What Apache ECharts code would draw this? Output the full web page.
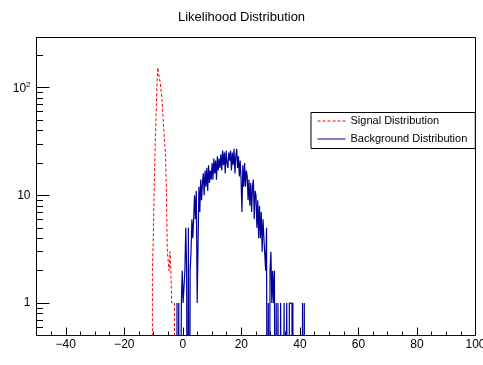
<!DOCTYPE html>
<html><head><meta charset="utf-8">
<script src="https://cdn.jsdelivr.net/npm/echarts@6/dist/echarts.min.js"></script>
<style>html,body{margin:0;padding:0;background:#fff}#c{width:483px;height:365px}</style>
</head><body><div id="c"></div>
<script>
// ---- data ----
const binWidth = 0.3;
const xMin = -50, xMax = 100;
const yMin = 0.5, yMax = 292;
const signalName = 'Signal Distribution';
const backgroundName = 'Background Distribution';
const signalStart = -10.4;
const signalCounts = [
  2, 4, 11, 25, 48, 95, 153, 150, 122, 110,
  92, 75, 55, 40, 30, 24, 10, 3, 3, 2,
  3, 2, 1, 1, 1, 1
];
const backgroundStart = -2.0;
const backgroundCounts = [
  1, 0, 1, 0, 0, 1, 2, 1, 1, 2,
  5, 2, 0, 5, 0, 2, 3, 6, 4, 6,
  10, 6, 11, 1, 1, 12, 7, 14, 9, 13,
  16, 10, 17, 12, 18, 11, 19, 13, 17, 14,
  20, 14, 22, 16, 21, 14, 23, 17, 22, 18,
  24, 17, 26, 19, 25, 16, 26, 20, 18, 25,
  21, 26, 17, 25, 19, 27, 16, 23, 27, 18,
  23, 15, 21, 14, 7, 19, 12, 20, 12, 17,
  15, 9, 14, 8, 13, 7, 12, 14, 6, 11,
  10, 5, 9, 4, 8, 4, 7, 3, 6, 4,
  4, 2, 5, 0, 1, 0, 2, 3, 1, 2,
  1, 2, 0, 1, 0, 1, 1, 0, 1, 1,
  0, 0, 1, 0, 0, 1, 1, 0, 1, 1,
  1, 0, 1, 0, 0, 0, 0, 0, 0, 0,
  0, 0, 0, 1, 0, 1, 0
];
const xTickLabels = [-40, -20, 0, 20, 40, 60, 80, 100];
const xMinorTicks = [-45, -40, -35, -30, -25, -20, -15, -10, -5, 0, 5, 10, 15, 20, 25, 30, 35, 40, 45, 50, 55, 60, 65, 70, 75, 80, 85, 90, 95];
const yMajorTicks = [1, 10, 100];
const yMinorTicks = [0.6, 0.7, 0.8, 0.9, 2, 3, 4, 5, 6, 7, 8, 9, 20, 30, 40, 50, 60, 70, 80, 90, 200];

// ---- build ----
const FONT = 'Liberation Sans, Arial, Helvetica, sans-serif';
const ZERO = 1e-3; // empty bins drawn below the log-axis floor (clipped), like ROOT
function histPoints(start, counts) {
  const pts = [[start, ZERO]];
  for (let i = 0; i < counts.length; i++) {
    pts.push([+(start + i * binWidth).toFixed(4), counts[i] > 0 ? counts[i] : ZERO]);
  }
  pts.push([+(start + counts.length * binWidth).toFixed(4), ZERO]);
  return pts;
}
const chart = echarts.init(document.getElementById('c'), null, {renderer: 'canvas'});
const fmtX = v => (v < 0 ? '\u2212' + Math.abs(v) : String(v));
const fmtY = v => (v >= 100 ? '{b|10}{s|2}' : String(Math.round(v)));
const clear = 'rgba(0,0,0,0)';
chart.setOption({
  animation: false,
  backgroundColor: '#fff',
  title: {
    text: 'Likelihood Distribution', left: 'center', top: 6,
    textStyle: {fontFamily: FONT, fontSize: 13, fontWeight: 'normal', color: '#000'}
  },
  legend: {
    orient: 'vertical', left: 311, top: 112.5,
    itemWidth: 28, itemHeight: 12, itemGap: 7,
    padding: [3, 8, 4, 6],
    borderColor: '#000', borderWidth: 1, backgroundColor: '#fff', borderRadius: 0,
    itemStyle: {color: clear, borderColor: clear, borderWidth: 0, opacity: 0},
    lineStyle: {width: 1},
    textStyle: {fontFamily: FONT, fontSize: 11, color: '#000'},
    data: [signalName, backgroundName]
  },
  grid: {
    left: 36.5, right: 7.5, top: 37.5, bottom: 29.5,
    show: true, borderColor: '#000', borderWidth: 1, backgroundColor: 'transparent',
    containLabel: false, outerBoundsMode: 'none'
  },
  xAxis: [
    {
      type: 'value', min: xMin, max: xMax, position: 'bottom',
      axisLine: {show: true, onZero: false, lineStyle: {color: '#000099', width: 1}},
      axisTick: {show: true, inside: true, length: 4, customValues: xMinorTicks, lineStyle: {color: '#000'}},
      axisLabel: {customValues: xTickLabels, formatter: fmtX, margin: 3, fontFamily: FONT, fontSize: 12, color: '#000'},
      splitLine: {show: false},
      name: 'Likelihood', nameLocation: 'end', nameGap: 0,
      nameTextStyle: {fontFamily: FONT, fontSize: 12, color: '#000', align: 'right', verticalAlign: 'top', padding: [14, 0, 0, 0]}
    },
    {
      type: 'value', min: xMin, max: xMax, position: 'bottom',
      axisLine: {show: false, onZero: false},
      axisTick: {show: true, inside: true, length: 8, customValues: xTickLabels, lineStyle: {color: '#000'}},
      axisLabel: {show: false}, splitLine: {show: false}
    }
  ],
  yAxis: [
    {
      type: 'log', logBase: 10, min: yMin, max: yMax, position: 'left',
      axisLine: {show: true, onZero: false, lineStyle: {color: '#000', width: 1}},
      axisTick: {show: true, inside: true, length: 13, customValues: yMajorTicks, lineStyle: {color: '#000'}},
      axisLabel: {
        customValues: yMajorTicks, formatter: fmtY, margin: 6,
        fontFamily: FONT, fontSize: 12, color: '#000',
        rich: {
          b: {fontFamily: FONT, fontSize: 12, color: '#000', verticalAlign: 'bottom', lineHeight: 14},
          s: {fontFamily: FONT, fontSize: 8, color: '#000', verticalAlign: 'top', lineHeight: 14}
        }
      },
      splitLine: {show: false}
    },
    {
      type: 'log', logBase: 10, min: yMin, max: yMax, position: 'left',
      axisLine: {show: false, onZero: false},
      axisTick: {show: true, inside: true, length: 6.5, customValues: yMinorTicks, lineStyle: {color: '#000'}},
      axisLabel: {show: false}, splitLine: {show: false}
    }
  ],
  series: [
    {
      name: signalName, type: 'line', step: 'end', xAxisIndex: 0, yAxisIndex: 0,
      symbol: 'none', clip: true, data: histPoints(signalStart, signalCounts),
      lineStyle: {color: '#ff0000', width: 1, type: [3, 2]}, itemStyle: {color: '#ff0000'}
    },
    {
      name: backgroundName, type: 'line', step: 'end', xAxisIndex: 0, yAxisIndex: 0,
      symbol: 'none', clip: true, data: histPoints(backgroundStart, backgroundCounts),
      lineStyle: {color: '#000099', width: 1.2, type: 'solid'}, itemStyle: {color: '#000099'}
    }
  ]
});
</script></body></html>
